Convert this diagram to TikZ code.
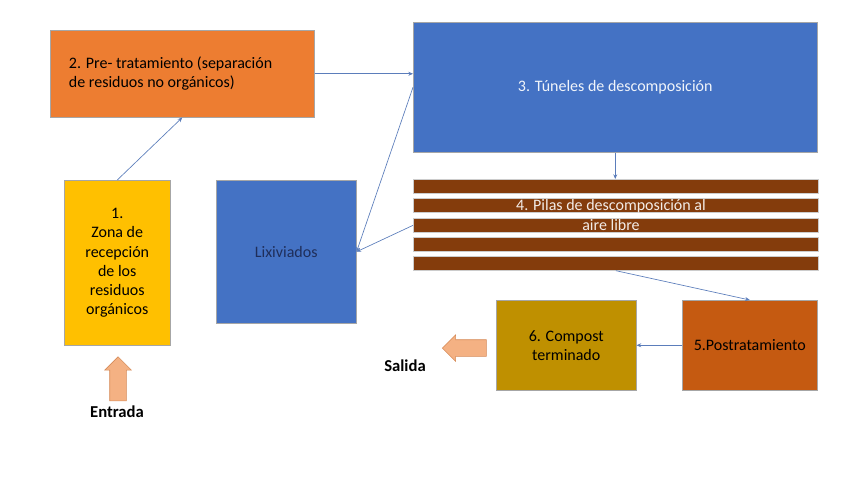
\documentclass[tikz,border=0pt]{standalone}
\usepackage{fontspec}
\setmainfont{Carlito}
\usetikzlibrary{shapes,arrows,arrows.meta,positioning}
\definecolor{cOrange}{HTML}{ED7D31}
\definecolor{cBlue}{HTML}{4472C4}
\definecolor{cYellow}{HTML}{FFC000}
\definecolor{cBrown}{HTML}{843C0C}
\definecolor{cGold}{HTML}{BF9000}
\definecolor{cRust}{HTML}{C55A11}
\definecolor{cPeach}{HTML}{F4B183}
\definecolor{cLine}{HTML}{5B7DBB}
\definecolor{cNavy}{HTML}{1F2E5A}

\begin{document}
\begin{tikzpicture}[x=0.75pt,y=-0.75pt,
    block/.style={rectangle,draw=black!35,line width=0.4pt,inner sep=0pt,anchor=north west,font=\fontsize{12}{14.3}\selectfont,align=center},
    stripe/.style={rectangle,draw=black!20,line width=0.5pt,fill=cBrown,inner sep=0pt,anchor=north west,minimum width=303.75pt,minimum height=10.5pt},
    bigarrow/.style={single arrow,draw=cRust!70,fill=cPeach,line width=0.4pt,inner sep=6pt,single arrow head extend=3.75pt,minimum height=33pt},
    arrow/.style={-{Stealth[length=3.5pt,width=3pt]},draw=cLine,line width=0.5pt}]
    \useasboundingbox (0,0) rectangle (850,479);
    % boxes
    \node[block,fill=cOrange,minimum width=197.25pt,minimum height=65.25pt,text width=170pt,align=flush left,inner xsep=14pt] (pretrat) at (50,30) {2. Pre- tratamiento (separación\\de residuos no orgánicos)};
    \node[block,fill=cBlue,text=white!92!cBlue,minimum width=303pt,minimum height=97.5pt] (tuneles) at (413,22) {3. Túneles de descomposición};
    \node[block,fill=cYellow,minimum width=79.5pt,minimum height=123.75pt] (recep) at (64,180) {1.\\Zona de\\recepción\\de los\\residuos\\orgánicos};
    \node[block,fill=cBlue,text=cNavy,minimum width=105pt,minimum height=107.25pt] (lixiv) at (216,180) {Lixiviados};
    \node[block,fill=cGold,minimum width=105pt,minimum height=67.5pt] (compost) at (496,300) {6. Compost\\terminado};
    \node[block,fill=cRust,minimum width=101.25pt,minimum height=67.5pt] (post) at (682,300) {5.Postratamiento};
    % pilas
    \node[stripe] (s1) at (413,179) {};
    \node[stripe] (s2) at (413,198) {};
    \node[stripe] (s3) at (413,218) {};
    \node[stripe] (s4) at (413,237) {};
    \node[stripe] (s5) at (413,256) {};
    \node[font=\fontsize{12}{14.3}\selectfont,text=white!90!cBrown,align=center] (pilas) at (611,215) {4. Pilas de descomposición al\\aire libre};
    % entrada y salida
    \node[bigarrow,shape border rotate=90] (entra) at (118,383) {};
    \node[font=\bfseries\fontsize{12.5}{14}\selectfont] (entrada) at (117,412) {Entrada};
    \node[bigarrow,shape border rotate=180] (sale) at (468.5,348) {};
    \node[font=\bfseries\fontsize{12.5}{14}\selectfont] (salida) at (405,366) {Salida};
    % flujo
    \draw[arrow] (recep.north) -- (pretrat.south);
    \draw[arrow] (pretrat.east) -- (pretrat.east -| tuneles.west);
    \draw[arrow] (tuneles.south) -- (s1.north -| tuneles.south);
    \draw[arrow] (tuneles.west) -- (lixiv.east);
    \draw[arrow] (s3.west) -- (lixiv.east);
    \draw[arrow] (s5.south) -- (post.north);
    \draw[arrow] (post.west) -- (compost.east);
\end{tikzpicture}
\end{document}
